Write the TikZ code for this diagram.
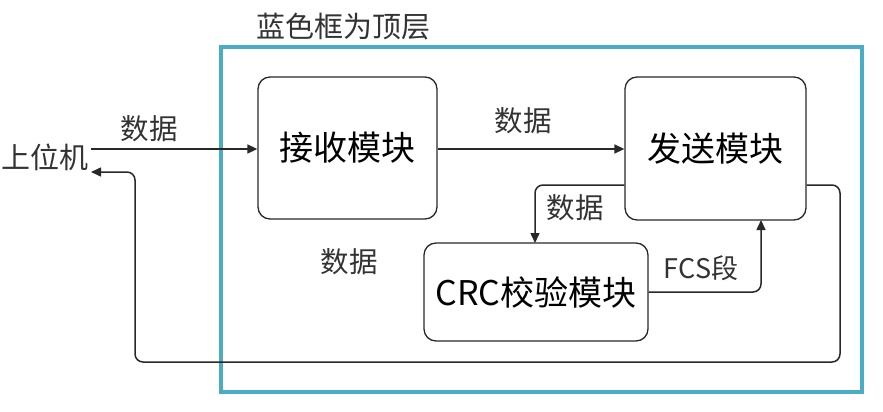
\documentclass[tikz,border=0pt]{standalone}
\usepackage{fontspec}
\setmainfont{Noto Sans CJK SC}
\usetikzlibrary{arrows.meta}
\definecolor{frameblue}{RGB}{75,172,198}
\definecolor{linegray}{RGB}{40,40,40}
\tikzset{
  blk/.style={draw=linegray, line width=1.3pt, rounded corners=12pt, inner sep=0pt, font=\fontsize{34}{38}\selectfont},
  conn/.style={draw=linegray, line width=1.5pt, -{Triangle[length=10pt,width=9pt]}, rounded corners=8pt},
  lbl/.style={font=\fontsize{28.5}{32}\selectfont, text=black!80, inner sep=0pt}
}
\begin{document}
\begin{tikzpicture}[x=1pt,y=-1pt]
\useasboundingbox (0,0) rectangle (883,412);
\draw[frameblue, line width=4pt] (221,47) rectangle (862,392);
\node[lbl, font=\fontsize{29}{32}\selectfont] (title) at (343,27) {蓝色框为顶层};
\node[blk, minimum width=179pt, minimum height=142pt] (rx) at (347.5,148) {接收模块};
\node[blk, minimum width=181pt, minimum height=143pt] (tx) at (715.5,148.5) {发送模块};
\node[blk, minimum width=224pt, minimum height=98pt] (crc) at (536,292) {CRC校验模块};
\node[lbl, font=\fontsize{29}{32}\selectfont, anchor=west] (host) at (1,157) {上位机};
\coordinate (hin) at (91,149);
\coordinate (hret) at (91,172);
\draw[conn] (hin) -- (rx.west |- hin);
\node[lbl] (l1) at (149,129) {数据};
\draw[conn] (rx.east |- 0,149) -- (tx.west |- 0,149);
\node[lbl] (l2) at (523,121) {数据};
\draw[conn] (tx.west |- 0,185) -- (535,185) -- (535,243);
\node[lbl] (l3) at (575,208) {数据};
\draw[conn] (crc.east |- 0,292) -- (761,292) -- (761,220);
\node[lbl, font=\fontsize{27}{30}\selectfont] (l4) at (701,268) {FCS段};
\draw[conn] (tx.east |- 0,185) -- (840,185) -- (840,362) -- (135,362) -- (135,172) -- (hret);
\node[lbl] (l5) at (349,262) {数据};
\end{tikzpicture}
\end{document}
